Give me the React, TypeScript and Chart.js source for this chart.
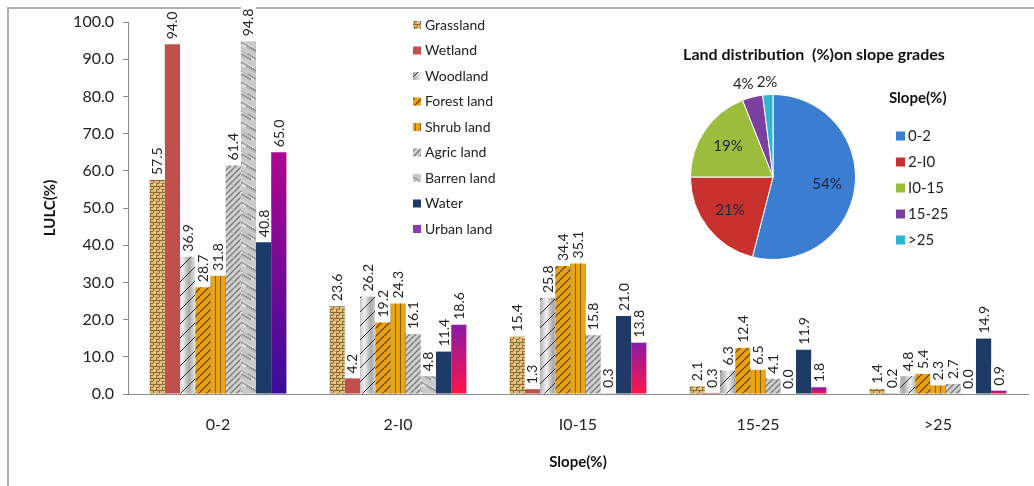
import React, { useEffect, useRef } from "react";
import { Chart, registerables } from "chart.js";
Chart.register(...registerables);

const categories = ["0-2", "2-I0", "I0-15", "15-25", ">25"];
const seriesNames = ["Grassland", "Wetland", "Woodland", "Forest land", "Shrub land", "Agric land", "Barren land", "Water", "Urban land"];
const grassland = [57.5, 23.6, 15.4, 2.1, 1.4];
const wetland = [94.0, 4.2, 1.3, 0.3, 0.2];
const woodland = [36.9, 26.2, 25.8, 6.3, 4.8];
const forestLand = [28.7, 19.2, 34.4, 12.4, 5.4];
const shrubLand = [31.8, 24.3, 35.1, 6.5, 2.3];
const agricLand = [61.4, 16.1, 15.8, 4.1, 2.7];
const barrenLand = [94.8, 4.8, 0.3, 0.0, 0.0];
const water = [40.8, 11.4, 21.0, 11.9, 14.9];
const urbanLand = [65.0, 18.6, 13.8, 1.8, 0.9];
const seriesValues = [grassland, wetland, woodland, forestLand, shrubLand, agricLand, barrenLand, water, urbanLand];

const yMin = 0;
const yMax = 100;
const yStep = 10;

const pieTitle = "Land distribution  (%)on slope grades";
const pieLegendTitle = "Slope(%)";
const pieLabels = ["0-2", "2-I0", "I0-15", "15-25", ">25"];
const pieValues = [54, 21, 19, 4, 2];
const pieColors = ["#3A7DD1", "#C8302E", "#9CBD3C", "#7B3FA0", "#2FB4D4"];

const FONT = "Lato, 'Open Sans', sans-serif";

function tile(w: number, h: number, draw: (g: CanvasRenderingContext2D, w: number, h: number) => void) {
  const c = document.createElement("canvas");
  c.width = w;
  c.height = h;
  const g = c.getContext("2d")!;
  draw(g, w, h);
  return g.createPattern(c, "repeat")!;
}

function diag(g: CanvasRenderingContext2D, w: number, h: number, color: string, lw: number) {
  g.strokeStyle = color;
  g.lineWidth = lw;
  for (const k of [-w, 0, w]) {
    g.beginPath();
    g.moveTo(k, h);
    g.lineTo(k + w, 0);
    g.stroke();
  }
}

function makeFills() {
  const grass = tile(6, 6, (g) => {
    g.fillStyle = "#DDB976";
    g.fillRect(0, 0, 6, 6);
    g.fillStyle = "#8C6A38";
    g.fillRect(0, 0, 6, 1);
    g.fillRect(0, 3, 3, 1);
    g.fillRect(3, 1, 1, 2);
    g.fillRect(0, 4, 1, 2);
    g.fillStyle = "#F2DCA8";
    g.fillRect(4, 4, 2, 1);
  });
  const wood = tile(14, 14, (g, w, h) => {
    const gr = g.createLinearGradient(0, 0, w, 0);
    gr.addColorStop(0, "#F4F4F4");
    gr.addColorStop(0.5, "#A8A8A8");
    gr.addColorStop(1, "#EDEDED");
    g.fillStyle = gr;
    g.fillRect(0, 0, w, h);
    diag(g, w, h, "#333", 1);
  });
  const forest = tile(8, 8, (g, w, h) => {
    g.fillStyle = "#E9A312";
    g.fillRect(0, 0, w, h);
    diag(g, w, h, "#7A4A08", 1.4);
  });
  const shrub = tile(5, 2, (g) => {
    g.fillStyle = "#EAA514";
    g.fillRect(0, 0, 5, 2);
    g.fillStyle = "#8E5C0A";
    g.fillRect(0, 0, 1, 2);
  });
  const agric = tile(6, 6, (g, w, h) => {
    g.fillStyle = "#CFCFCF";
    g.fillRect(0, 0, w, h);
    diag(g, w, h, "#7E7E7E", 1.5);
  });
  const barren = tile(20, 20, (g) => {
    g.fillStyle = "#C9C9C9";
    g.fillRect(0, 0, 20, 20);
    for (let i = 0; i < 70; i++) {
      const x = (i * 7.3) % 20;
      const y = (i * 13.7) % 20;
      g.fillStyle = i % 3 === 0 ? "#EEEEEE" : i % 3 === 1 ? "#8A8A8A" : "#A9A9A9";
      g.fillRect(x, y, 2, 2);
    }
  });
  return [grass, "#C0504D", wood, forest, shrub, agric, barren, "#1E3A66", "#8E1A9E"] as any[];
}

export default function App() {
  const barRef = useRef<HTMLCanvasElement>(null);
  const pieRef = useRef<HTMLCanvasElement>(null);

  useEffect(() => {
    document.body.style.margin = "0";
    const fills = makeFills();

    const urbanFill = (ctx: any) => {
      const chart = ctx.chart;
      const ys = chart.scales?.y;
      if (!ys || ctx.dataIndex === undefined) return "#8E1A9E";
      const v = urbanLand[ctx.dataIndex] ?? 0;
      const top = ys.getPixelForValue(v);
      const bot = ys.getPixelForValue(0);
      if (!isFinite(top) || !isFinite(bot) || bot <= top) return "#8E1A9E";
      const gr = chart.ctx.createLinearGradient(0, top, 0, bot);
      if (ctx.dataIndex === 0) {
        gr.addColorStop(0, "#B0068E");
        gr.addColorStop(1, "#3A0C9C");
      } else {
        gr.addColorStop(0, "#8A1AA8");
        gr.addColorStop(1, "#FF1446");
      }
      return gr;
    };

    const labelPlugin = {
      id: "barLabels",
      afterDatasetsDraw(chart: any) {
        const ctx = chart.ctx;
        ctx.save();
        ctx.font = `14px ${FONT}`;
        chart.data.datasets.forEach((ds: any, di: number) => {
          const meta = chart.getDatasetMeta(di);
          meta.data.forEach((bar: any, i: number) => {
            const txt = Number(ds.data[i]).toFixed(1);
            ctx.save();
            ctx.translate(bar.x, bar.y - 5);
            ctx.rotate(-Math.PI / 2);
            const w = ctx.measureText(txt).width;
            ctx.fillStyle = "#fff";
            ctx.fillRect(-3, -7.5, w + 5, 15);
            ctx.fillStyle = "#222";
            ctx.textAlign = "left";
            ctx.textBaseline = "middle";
            ctx.fillText(txt, 0, 0.5);
            ctx.restore();
          });
        });
        ctx.restore();
      },
      afterDraw(chart: any) {
        const ctx = chart.ctx;
        ctx.save();
        ctx.font = `14px ${FONT}`;
        ctx.textBaseline = "middle";
        ctx.textAlign = "left";
        seriesNames.forEach((name, i) => {
          const y = 25 + i * 25.5;
          ctx.fillStyle = chart.data.datasets[i].legendFill;
          ctx.fillRect(413, y - 4, 8, 8);
          ctx.fillStyle = "#222";
          ctx.fillText(name, 425, y);
        });
        ctx.restore();
      },
    };

    const barChart = new Chart(barRef.current!, {
      type: "bar",
      data: {
        labels: categories,
        datasets: seriesNames.map((name, i) => ({
          label: name,
          data: seriesValues[i],
          backgroundColor: i === 8 ? urbanFill : fills[i],
          legendFill: i === 8 ? "#8E3AAE" : fills[i],
          borderWidth: 0,
          categoryPercentage: 0.76,
          barPercentage: 1.0,
        })) as any,
      },
      options: {
        animation: false,
        responsive: false,
        layout: { padding: { top: 22, right: 6, left: 0, bottom: 0 } },
        plugins: { legend: { display: false }, tooltip: { enabled: false }, title: { display: false } },
        scales: {
          x: {
            grid: { display: false, drawTicks: false },
            border: { display: true, color: "#8A8A8A", width: 1 },
            ticks: { color: "#222", font: { family: FONT, size: 16 }, padding: 21 },
            title: { display: true, text: "Slope(%)", color: "#111", font: { family: FONT, size: 15, weight: "bold" }, padding: { bottom: 15 } },
            afterFit: (s: any) => { s.height = 92; },
          },
          y: {
            min: yMin,
            max: yMax,
            ticks: { stepSize: yStep, color: "#222", font: { family: FONT, size: 16 }, padding: 9, callback: (v: any) => Number(v).toFixed(1) },
            grid: { display: true, drawOnChartArea: false, drawTicks: true, tickLength: 5, color: "#8A8A8A" },
            border: { display: true, color: "#8A8A8A", width: 1 },
            title: { display: true, text: "LULC(%)", color: "#111", font: { family: FONT, size: 15, weight: "bold" }, padding: { top: 41 } },
            afterFit: (s: any) => { s.width = 128; },
          },
        },
      },
      plugins: [labelPlugin],
    } as any);

    const piePlugin = {
      id: "pieDeco",
      afterDraw(chart: any) {
        const ctx = chart.ctx;
        const meta = chart.getDatasetMeta(0);
        ctx.save();
        ctx.fillStyle = "#111";
        ctx.font = `bold 16px ${FONT}`;
        ctx.textAlign = "center";
        ctx.textBaseline = "middle";
        ctx.fillText(pieTitle, 814, 55);
        ctx.font = `15px ${FONT}`;
        const outside: { x: number; y: number; w: number; t: string }[] = [];
        meta.data.forEach((arc: any, i: number) => {
          const mid = (arc.startAngle + arc.endAngle) / 2;
          const inside = pieValues[i] >= 10;
          const r = inside ? arc.outerRadius * 0.66 : arc.outerRadius + 13;
          const x = arc.x + Math.cos(mid) * r;
          const y = arc.y + Math.sin(mid) * r;
          const t = pieValues[i] + "%";
          if (inside) {
            ctx.fillStyle = "#1A2440";
            ctx.fillText(t, x, y);
          } else {
            outside.push({ x, y, w: ctx.measureText(t).width, t });
          }
        });
        for (let k = outside.length - 2; k >= 0; k--) {
          const a = outside[k];
          const b = outside[k + 1];
          const minGap = (a.w + b.w) / 2 + 3;
          if (b.x - a.x < minGap) a.x = b.x - minGap;
        }
        ctx.fillStyle = "#222";
        outside.forEach((o) => ctx.fillText(o.t, o.x, o.y));
        ctx.textAlign = "left";
        ctx.font = `bold 15px ${FONT}`;
        ctx.fillStyle = "#111";
        ctx.fillText(pieLegendTitle, 889, 98);
        ctx.font = `15px ${FONT}`;
        pieLabels.forEach((lab, i) => {
          const y = 136 + i * 26;
          ctx.fillStyle = pieColors[i];
          ctx.fillRect(896, y - 4.5, 9, 9);
          ctx.fillStyle = "#222";
          ctx.fillText(lab, 908, y);
        });
        ctx.restore();
      },
    };

    const pieChart = new Chart(pieRef.current!, {
      type: "pie",
      data: {
        labels: pieLabels,
        datasets: [{ data: pieValues, backgroundColor: pieColors, borderColor: "#fff", borderWidth: 1 }],
      },
      options: {
        animation: false,
        responsive: false,
        layout: { padding: { left: 690, right: 178, top: 94, bottom: 226 } },
        plugins: { legend: { display: false }, tooltip: { enabled: false }, title: { display: false } },
      },
      plugins: [piePlugin],
    } as any);

    return () => {
      barChart.destroy();
      pieChart.destroy();
    };
  }, []);

  return (
    <div style={{ position: "relative", width: 1034, height: 486, overflow: "hidden", background: "#fff" }}>
      <div style={{ position: "absolute", left: 7, top: 7, width: 1200, height: 700, borderTop: "2px solid #B0B0B0", borderLeft: "2px solid #B0B0B0" }} />
      <canvas ref={barRef} width={1034} height={486} style={{ position: "absolute", left: 0, top: 0 }} />
      <canvas ref={pieRef} width={1034} height={486} style={{ position: "absolute", left: 0, top: 0 }} />
    </div>
  );
}
